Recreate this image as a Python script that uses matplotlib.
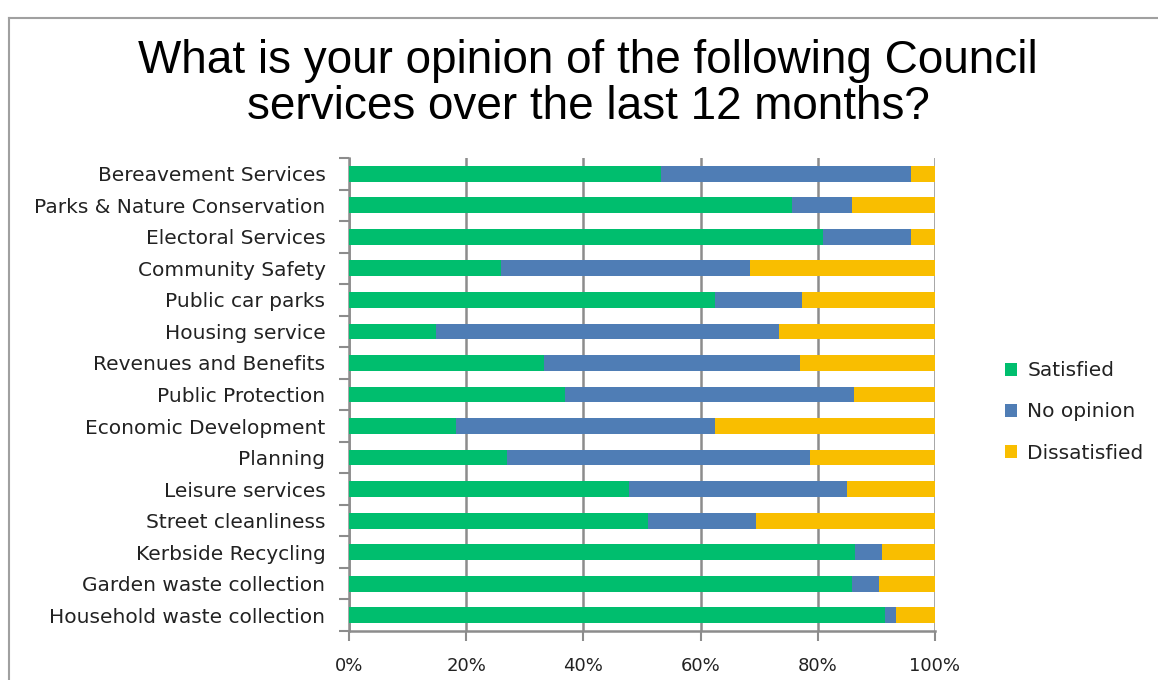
import matplotlib.pyplot as plt
from matplotlib.patches import Patch
from matplotlib.lines import Line2D
import numpy as np

services = [
    'Bereavement Services',
    'Parks & Nature Conservation',
    'Electoral Services',
    'Community Safety',
    'Public car parks',
    'Housing service',
    'Revenues and Benefits',
    'Public Protection',
    'Economic Development',
    'Planning',
    'Leisure services',
    'Street cleanliness',
    'Kerbside Recycling',
    'Garden waste collection',
    'Household waste collection',
]
satisfied = [53.3, 75.6, 80.9, 26.0, 62.5, 14.9, 33.2, 36.9, 18.2, 27.0, 47.8, 51.0, 86.4, 85.8, 91.4]
no_opinion = [42.6, 10.2, 15.0, 42.4, 14.8, 58.4, 43.7, 49.2, 44.3, 51.6, 37.1, 18.4, 4.6, 4.6, 2.0]
dissatisfied = [4.1, 14.2, 4.1, 31.6, 22.7, 26.7, 23.1, 13.9, 37.5, 21.4, 15.1, 30.6, 9.0, 9.6, 6.6]

series = ['Satisfied', 'No opinion', 'Dissatisfied']
colors = ['#00BE6E', '#4F7DB5', '#F9BE00']

W, H = 1158, 680
fig = plt.figure(figsize=(W / 100, H / 100), dpi=100)
ax = fig.add_axes([349 / W, 1 - 631 / H, (935 - 349) / W, (631 - 158) / H])

y = np.arange(len(services))
left = np.zeros(len(services))
for vals, c in zip([satisfied, no_opinion, dissatisfied], colors):
    vals = np.array(vals)
    ax.barh(y, vals, left=left, height=0.5, color=c, zorder=3)
    left += vals

ax.set_xlim(0, 100)
ax.set_ylim(len(services) - 0.5, -0.5)

lab_font = 'DejaVu Sans'
grid_col = '#8C8C8C'
ax.set_xticks(range(0, 101, 20))
ax.set_xticklabels([f'{v}%' for v in range(0, 101, 20)], fontsize=13, family=lab_font)
ax.grid(axis='x', color=grid_col, linewidth=1.8, zorder=0)
ax.tick_params(axis='x', length=7, width=1.5, color=grid_col, pad=12, labelcolor='#222222')

ax.set_yticks(y)
ax.set_yticklabels(services, fontsize=14.5, family=lab_font)
ax.set_yticks(np.arange(-0.5, len(services)), minor=True)
ax.tick_params(axis='y', which='major', length=0, pad=17, labelcolor='#222222')
ax.tick_params(axis='y', which='minor', length=7, width=1.5, color=grid_col)

for s in ['top', 'right']:
    ax.spines[s].set_visible(False)
for s in ['left', 'bottom']:
    ax.spines[s].set_color(grid_col)
    ax.spines[s].set_linewidth(1.8)

fig.text(588 / W, 1 - 84 / H, 'What is your opinion of the following Council\nservices over the last 12 months?',
         ha='center', va='center', fontsize=33, family='Liberation Sans', linespacing=1.05)

handles = [Patch(facecolor=c, label=s) for c, s in zip(colors, series)]
fig.legend(handles=handles, loc='center left', bbox_to_anchor=(987 / W, 1 - 412 / H),
           frameon=False, prop={'family': lab_font, 'size': 14.5}, labelcolor='#222222',
           handlelength=0.6, handleheight=0.6, handletextpad=0.5, labelspacing=1.1)

# chart frame
fig.add_artist(Line2D([9 / W, 1], [1 - 18 / H, 1 - 18 / H], color='#A0A0A0', linewidth=1.5))
fig.add_artist(Line2D([9 / W, 9 / W], [0, 1 - 18 / H], color='#A0A0A0', linewidth=1.5))

fig.savefig('out.png', dpi=100)
